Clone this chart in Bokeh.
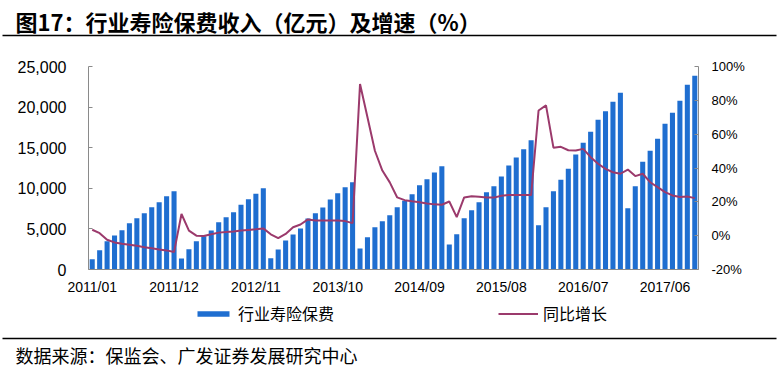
from bokeh.plotting import figure
from bokeh.layouts import column
from bokeh.models import (Range1d, LinearAxis, FixedTicker, NumeralTickFormatter,
                          PrintfTickFormatter, Label, BoxAnnotation, Legend, LegendItem,
                          ColumnDataSource)
from bokeh.embed import file_html
from bokeh.resources import INLINE

# ---------------- data ----------------
years = [2011, 2012, 2013, 2014, 2015, 2016, 2017]
months = [f"{y}/{m:02d}" for y in years for m in range(1, 13)][:82]   # 2011/01 .. 2017/10

# 行业寿险保费 (亿元, cumulative within year)
premium = [
    1270, 2380, 3490, 4190, 4840, 5710, 6320, 6940, 7670, 8290, 9030, 9640,          # 2011
    1350, 2500, 3490, 4100, 4800, 5830, 6440, 7060, 7960, 8660, 9320, 10010,         # 2012
    1390, 2460, 3570, 4310, 5050, 6280, 6930, 7630, 8620, 9400, 10140, 10750,        # 2013
    2590, 3980, 5210, 5950, 6670, 7670, 8460, 9270, 10380, 11120, 11950, 12720,      # 2014
    3080, 4330, 6320, 7290, 8270, 9500, 10240, 11450, 12810, 13790, 14820, 15920,    # 2015
    5440, 7670, 9640, 11040, 12400, 14160, 15600, 16960, 18430, 19490, 20650, 21760, # 2016
    7550, 10260, 13260, 14620, 16100, 17940, 19300, 20780, 22750, 23850,             # 2017
]

# 同比增长 (%)
growth = [
    3.5, 1.5, -2.4, -4.0, -4.8, -5.4, -6.0, -6.8, -7.4, -8.2, -8.7, -9.7,            # 2011
    12.8, 3.0, 0.0, -0.2, 0.8, 1.8, 2.2, 2.5, 3.0, 3.4, 3.8, 4.3,                     # 2012
    0.8, -1.5, 1.0, 5.0, 6.6, 9.6, 9.0, 9.0, 9.0, 9.0, 8.6, 7.4,                      # 2013
    89.6, 70.0, 50.2, 38.5, 31.5, 22.6, 21.0, 20.3, 19.7, 19.0, 18.5, 18.3,          # 2014
    20.2, 11.0, 22.6, 23.3, 23.0, 22.5, 22.5, 23.6, 24.0, 24.0, 24.0, 24.0,          # 2015
    74.0, 77.0, 52.0, 52.5, 50.5, 50.3, 51.3, 46.4, 42.5, 39.5, 37.5, 36.6,          # 2016
    39.1, 35.2, 36.6, 31.6, 28.7, 25.7, 23.8, 22.8, 23.2, 22.2,                      # 2017
]

tick_labels = ["2011/01", "2011/12", "2012/11", "2013/10",
               "2014/09", "2015/08", "2016/07", "2017/06"]
left_ticks = [0, 5000, 10000, 15000, 20000, 25000]
right_ticks = [-20, 0, 20, 40, 60, 80, 100]

title_text = "图17：行业寿险保费收入（亿元）及增速（%）"
source_text = "数据来源：保监会、广发证券发展研究中心"
series_names = ["行业寿险保费", "同比增长"]

# ---------------- styling ----------------
W = 783
BAR = "#1F6ED0"
LINE = "#9B3A6C"
AX = "#8A8A8A"
CJK = "Noto Sans CJK SC"


def blank_fig(h):
    f = figure(width=W, height=h, output_backend="svg", toolbar_location=None,
               x_axis_location=None, y_axis_location=None, min_border=0,
               x_range=Range1d(0, 1), y_range=Range1d(0, 1))
    f.outline_line_color = None
    f.grid.visible = False
    f.frame_align = False
    return f


def rule(y_from_bottom):
    return BoxAnnotation(left=2, right=776, top=y_from_bottom + 0.8,
                         bottom=y_from_bottom - 0.8,
                         left_units="screen", right_units="screen",
                         top_units="screen", bottom_units="screen",
                         fill_color="black", fill_alpha=1, line_color=None)


# ---------------- header ----------------
top = blank_fig(40)
top.add_layout(Label(x=15, y=20, x_units="screen", y_units="screen",
                     text=title_text, text_font=CJK, text_font_style="bold",
                     text_font_size="22px", text_baseline="middle",
                     text_align="left", text_color="black"))
top.add_layout(rule(5))

# ---------------- main chart ----------------
src = ColumnDataSource(dict(x=list(range(len(months))), month=months,
                            premium=premium, growth=growth))

p = figure(width=W, height=260, output_backend="svg", toolbar_location=None,
           x_range=Range1d(-0.5, len(months) - 0.5), y_range=Range1d(0, 25000),
           min_border_left=88, min_border_right=85, min_border_top=26,
           min_border_bottom=31)
p.frame_align = False
p.extra_y_ranges = {"pct": Range1d(-20, 100)}
p.outline_line_color = None
p.grid.visible = False

bars = p.vbar(x="x", top="premium", width=0.68, source=src,
              fill_color=BAR, line_color=None)
line = p.line(x="x", y="growth", source=src, y_range_name="pct",
              line_color=LINE, line_width=2)

xa = p.xaxis[0]
pos = [months.index(t) for t in tick_labels]
xa.ticker = FixedTicker(ticks=pos)
xa.major_label_overrides = {i: t for i, t in zip(pos, tick_labels)}
xa.major_tick_in = 0
xa.major_tick_out = 0
xa.minor_tick_line_color = None
xa.axis_line_color = AX
xa.major_label_standoff = 9
xa.major_label_text_font = "Liberation Sans"
xa.major_label_text_font_size = "14px"
xa.major_label_text_color = "black"

ya = p.yaxis[0]
ya.ticker = FixedTicker(ticks=left_ticks)
ya.formatter = NumeralTickFormatter(format="0,0")
ya.major_tick_in = 4
ya.major_tick_out = 0
ya.minor_tick_line_color = None
ya.axis_line_color = AX
ya.major_tick_line_color = AX
ya.major_label_standoff = 22
ya.major_label_text_font = "Liberation Sans"
ya.major_label_text_font_size = "16px"
ya.major_label_text_color = "black"

ra = LinearAxis(y_range_name="pct", ticker=FixedTicker(ticks=right_ticks),
                formatter=PrintfTickFormatter(format="%d%%"))
ra.major_tick_in = 4
ra.major_tick_out = 0
ra.minor_tick_line_color = None
ra.axis_line_color = AX
ra.major_tick_line_color = AX
ra.major_label_standoff = 13
ra.major_label_text_font = "Liberation Sans"
ra.major_label_text_font_size = "13px"
ra.major_label_text_color = "black"
p.add_layout(ra, "right")

# ---------------- footer: legend, rule, source ----------------
bottom = blank_fig(68)
# hidden key renderers (same data, not drawn) that give the legend its swatches
bar_key = bottom.vbar(x="x", top="premium", width=0.68, source=src,
                      fill_color=BAR, line_color=None, visible=False)
line_key = bottom.line(x="x", y="growth", source=src,
                       line_color=LINE, line_width=2, visible=False)
legend = Legend(items=[LegendItem(label=series_names[0], renderers=[bar_key]),
                       LegendItem(label=series_names[1], renderers=[line_key])],
                orientation="horizontal", location=(193, 43), margin=0,
                glyph_width=40, glyph_height=7, label_standoff=5, spacing=164,
                padding=0, border_line_color=None,
                background_fill_alpha=0, inactive_fill_alpha=0,
                label_text_font=CJK,
                label_text_font_size="16px", label_text_color="black")
bottom.add_layout(legend)
bottom.add_layout(rule(30))
bottom.add_layout(Label(x=15, y=14, x_units="screen", y_units="screen",
                        text=source_text, text_font=CJK, text_font_size="18px",
                        text_baseline="middle", text_align="left",
                        text_color="black"))

layout = column(top, p, bottom, spacing=0)
open("out.html", "w").write(file_html(layout, INLINE))
